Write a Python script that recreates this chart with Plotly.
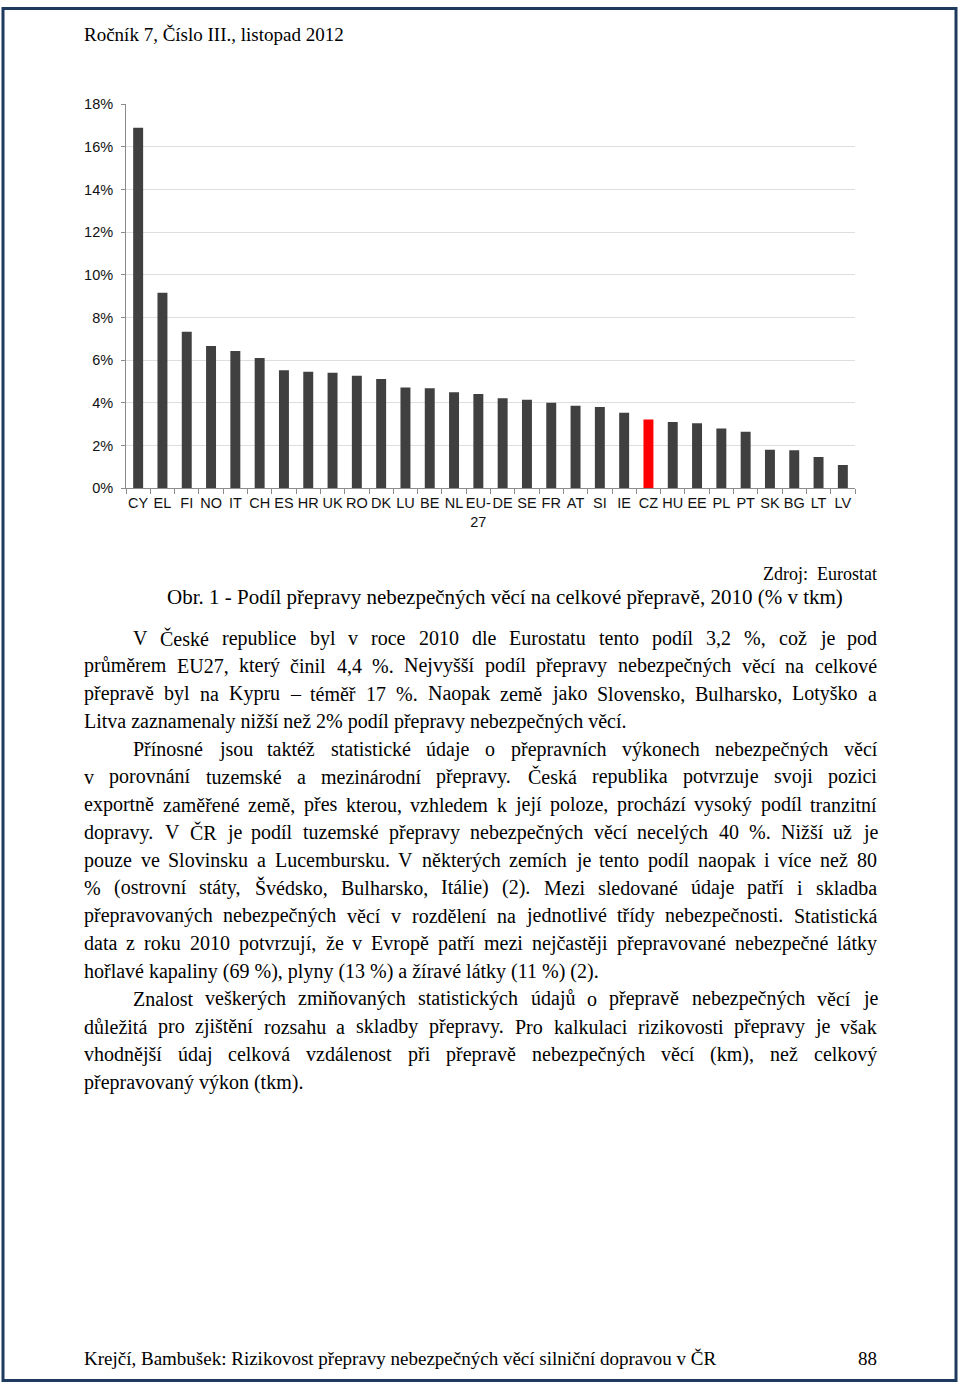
import unicodedata
import plotly.graph_objects as go

W, H = 960, 1389

# ---------------- data ----------------
countries = ["CY", "EL", "FI", "NO", "IT", "CH", "ES", "HR", "UK", "RO", "DK", "LU", "BE", "NL",
             "EU-27", "DE", "SE", "FR", "AT", "SI", "IE", "CZ", "HU", "EE", "PL", "PT", "SK",
             "BG", "LT", "LV"]
country_labels = ["CY", "EL", "FI", "NO", "IT", "CH", "ES", "HR", "UK", "RO", "DK", "LU", "BE", "NL",
                  "EU-<br>27", "DE", "SE", "FR", "AT", "SI", "IE", "CZ", "HU", "EE", "PL", "PT", "SK",
                  "BG", "LT", "LV"]
shares = [16.9, 9.17, 7.34, 6.67, 6.44, 6.11, 5.53, 5.47, 5.42, 5.28, 5.12, 4.73, 4.69, 4.50,
          4.42, 4.22, 4.15, 4.01, 3.87, 3.81, 3.54, 3.23, 3.11, 3.05, 2.81, 2.65, 1.81, 1.78,
          1.47, 1.09]
highlight = "CZ"
y_tick_values = [0, 2, 4, 6, 8, 10, 12, 14, 16, 18]
y_tick_labels = ["0%", "2%", "4%", "6%", "8%", "10%", "12%", "14%", "16%", "18%"]

header_text = "Ročník 7, Číslo III., listopad 2012"
source_text = "Zdroj:  Eurostat"
caption_text = "Obr. 1 - Podíl přepravy nebezpečných věcí na celkové přepravě, 2010 (% v tkm)"
footer_text = "Krejčí, Bambušek: Rizikovost přepravy nebezpečných věcí silniční dopravou v ČR"
page_number = "88"

# (text, indented, justified)
body_lines = [
    ("V České republice byl v roce 2010 dle Eurostatu tento podíl 3,2 %, což je pod", True, True),
    ("průměrem EU27, který činil 4,4 %. Nejvyšší podíl přepravy nebezpečných věcí na celkové", False, True),
    ("přepravě byl na Kypru – téměř 17 %. Naopak země jako Slovensko, Bulharsko, Lotyško a", False, True),
    ("Litva zaznamenaly nižší než 2% podíl přepravy nebezpečných věcí.", False, False),
    ("Přínosné jsou taktéž statistické údaje o přepravních výkonech nebezpečných věcí", True, True),
    ("v porovnání tuzemské a mezinárodní přepravy. Česká republika potvrzuje svoji pozici", False, True),
    ("exportně zaměřené země, přes kterou, vzhledem k její poloze, prochází vysoký podíl tranzitní", False, True),
    ("dopravy. V ČR je podíl tuzemské přepravy nebezpečných věcí necelých 40 %. Nižší už je", False, True),
    ("pouze ve Slovinsku a Lucembursku. V některých zemích je tento podíl naopak i více než 80", False, True),
    ("% (ostrovní státy, Švédsko, Bulharsko, Itálie) (2). Mezi sledované údaje patří i skladba", False, True),
    ("přepravovaných nebezpečných věcí v rozdělení na jednotlivé třídy nebezpečnosti. Statistická", False, True),
    ("data z roku 2010 potvrzují, že v Evropě patří mezi nejčastěji přepravované nebezpečné látky", False, True),
    ("hořlavé kapaliny (69 %), plyny (13 %) a žíravé látky (11 %) (2).", False, False),
    ("Znalost veškerých zmiňovaných statistických údajů o přepravě nebezpečných věcí je", True, True),
    ("důležitá pro zjištění rozsahu a skladby přepravy. Pro kalkulaci rizikovosti přepravy je však", False, True),
    ("vhodnější údaj celková vzdálenost při přepravě nebezpečných věcí (km), než celkový", False, True),
    ("přepravovaný výkon (tkm).", False, False),
]

# ---------------- layout helpers ----------------
# the captured page comes out slightly offset/compressed vertically; compensate
Y_OFF, Y_SCALE = 7.0, 0.9884


def px(x):
    return x / W


def py(y):
    yf = (y - Y_OFF) / Y_SCALE
    yf = min(max(yf, 0.5), H - 0.5)
    return 1 - yf / H


SERIF = "Liberation Serif"
SANS = "Liberation Sans"

TIMES = {
    'a': 444, 'b': 500, 'c': 444, 'd': 500, 'e': 444, 'f': 333, 'g': 500, 'h': 500, 'i': 278,
    'j': 278, 'k': 500, 'l': 278, 'm': 778, 'n': 500, 'o': 500, 'p': 500, 'q': 500, 'r': 333,
    's': 389, 't': 278, 'u': 500, 'v': 500, 'w': 722, 'x': 500, 'y': 500, 'z': 444,
    'A': 722, 'B': 667, 'C': 667, 'D': 722, 'E': 611, 'F': 556, 'G': 722, 'H': 722, 'I': 333,
    'J': 389, 'K': 722, 'L': 611, 'M': 889, 'N': 722, 'O': 722, 'P': 556, 'Q': 722, 'R': 667,
    'S': 556, 'T': 611, 'U': 722, 'V': 722, 'W': 944, 'X': 722, 'Y': 722, 'Z': 611,
    ' ': 250, '.': 250, ',': 250, '%': 833, '(': 333, ')': 333, '-': 333, '–': 500, ':': 278,
    ';': 278,
}


def text_width(s, fs):
    tot = 0
    for ch in s:
        base = unicodedata.normalize('NFD', ch)[0]
        if base.isdigit():
            tot += 500
        else:
            tot += TIMES.get(base, 500)
    return tot * fs / 1000.0


annotations = []


def add_text(x, y, text, size, anchor="left", font=SERIF, color="#000000"):
    annotations.append(dict(
        xref="paper", yref="paper", x=px(x), y=py(y), text=text, showarrow=False,
        xanchor=anchor, yanchor="middle", font=dict(family=font, size=size, color=color),
        borderpad=0, borderwidth=0,
    ))


# header / captions / footer
add_text(84, 33, header_text, 19)
add_text(877, 573, source_text, 18, anchor="right")
add_text(505, 596, caption_text, 21, anchor="center")
add_text(84, 1357, footer_text, 19)
add_text(877, 1357, page_number, 19, anchor="right")

# body text (justified word placement)
LEFT, RIGHT, INDENT = 84, 877, 133
BODY_FS = 20
line_y0, line_step = 637, 27.75
for i, (line, indented, justified) in enumerate(body_lines):
    y = line_y0 + i * line_step
    x0 = INDENT if indented else LEFT
    if not justified:
        add_text(x0, y, line, BODY_FS)
        continue
    words = line.split(" ")
    widths = [text_width(w, BODY_FS) for w in words]
    gap = (RIGHT - x0 - sum(widths)) / (len(words) - 1)
    x = x0
    for w, wd in zip(words, widths):
        add_text(x, y, w, BODY_FS)
        x += wd + gap

# ---------------- chart ----------------
bar_colors = ["#ff0000" if c == highlight else "#404040" for c in countries]

fig = go.Figure(go.Bar(
    x=countries, y=shares, marker=dict(color=bar_colors, line=dict(width=0)),
    width=0.41, showlegend=False,
))

plot_left, plot_right = 126, 855
plot_top, plot_bottom = 103.3, 487.3

fig.update_layout(
    width=W, height=H,
    margin=dict(l=0, r=0, t=0, b=0),
    paper_bgcolor="white", plot_bgcolor="white",
    xaxis=dict(
        domain=[px(plot_left), px(plot_right)],
        type="category",
        tickmode="array", tickvals=countries, ticktext=country_labels,
        tickson="boundaries", ticks="outside", ticklen=5, tickcolor="#8c8c8c",
        showline=True, linecolor="#8c8c8c", linewidth=1,
        showgrid=False, tickangle=0, ticklabelstandoff=1,
        tickfont=dict(family=SANS, size=14.5, color="#111111"),
    ),
    yaxis=dict(
        domain=[py(plot_bottom), py(plot_top)],
        range=[0, 18],
        tickmode="array", tickvals=y_tick_values, ticktext=y_tick_labels,
        ticks="outside", ticklen=4, tickcolor="#8c8c8c",
        showline=True, linecolor="#8c8c8c", linewidth=1,
        showgrid=True, gridcolor="#dedede", gridwidth=1,
        zeroline=False, ticklabelstandoff=5,
        tickfont=dict(family=SANS, size=14.5, color="#111111"),
    ),
    annotations=annotations,
    shapes=[dict(
        type="rect", xref="paper", yref="paper",
        x0=px(3), x1=px(956), y0=py(1383), y1=py(2),
        line=dict(color="#1f3a5f", width=3), fillcolor="rgba(0,0,0,0)", layer="above",
    )],
)

fig.write_html("out.html",
               post_script="document.body.style.margin='0';document.body.style.padding='0';")
